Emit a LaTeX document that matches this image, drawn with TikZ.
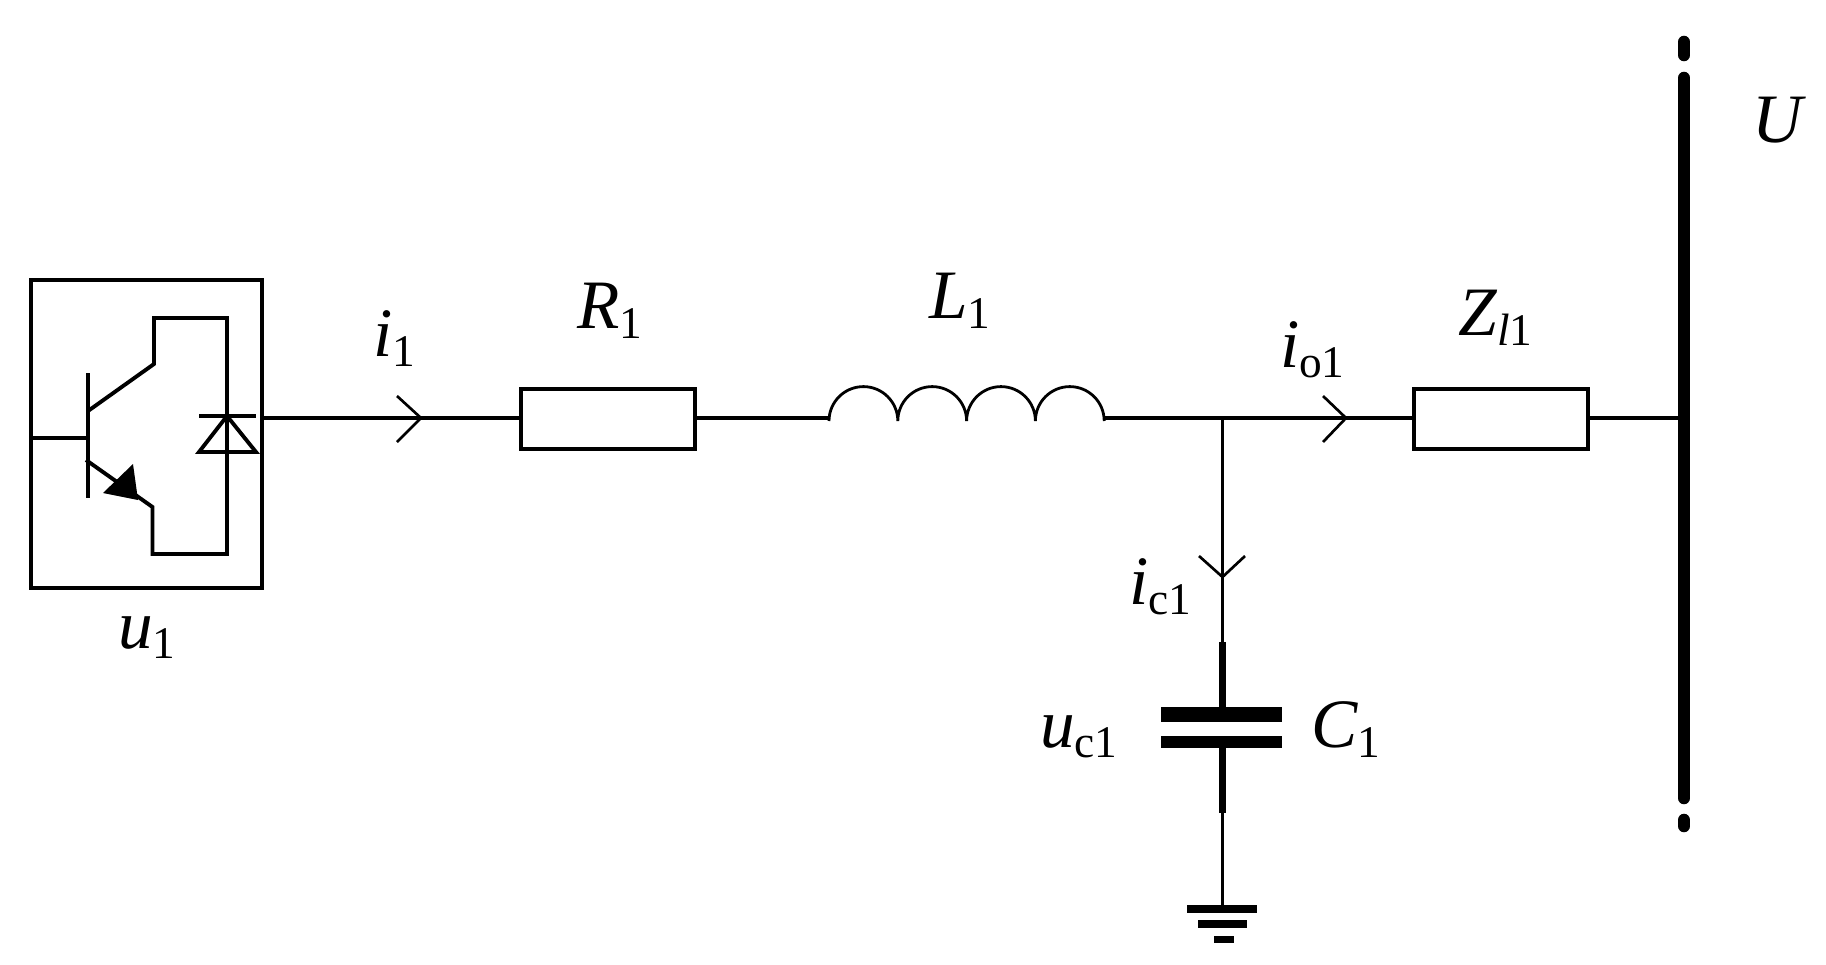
\documentclass[tikz,border=0pt]{standalone}
\usepackage{fontspec}
\setmainfont{Liberation Serif}
\newcommand{\subtxt}[1]{\raisebox{-8pt}{\fontsize{34}{34}\selectfont #1}}
\newcommand{\mainit}[1]{\textit{#1}}
\tikzset{
  wire/.style={line width=2.8pt},
  symline/.style={line width=2.9pt,line join=miter},
  resbox/.style={draw,line width=2.6pt,fill=white,inner sep=0pt,outer sep=0pt,minimum width=130.5pt,minimum height=45pt},
  arrowline/.style={line width=2pt},
  plate/.style={fill=black,inner sep=0pt,outer sep=0pt,minimum width=91pt},
  gbar/.style={fill=black,inner sep=0pt,outer sep=0pt},
  lab/.style={inner sep=0pt,outer sep=0pt,anchor=base west,font=\fontsize{52}{52}\selectfont},
}
\begin{document}
\begin{tikzpicture}[x=0.75pt,y=-0.75pt]
\useasboundingbox (0,0) rectangle (1826,964);
% converter
\node[draw,line width=3pt,inner sep=0pt,outer sep=0pt,minimum width=173.25pt,minimum height=231pt] (conv) at (146.5,434) {};
\coordinate (gate) at (31,438);
\coordinate (base) at (88,438);
\draw[symline] (gate) -- (base);
\draw[symline] (88,373) -- (88,498);
\draw[symline] (88,411) -- (154,364) -- (154,318) -- (227,318) -- (227,554) -- (152.5,554) -- (152.5,507) -- (86,460);
\fill (138,500) -- (103,493) -- (133,464) -- cycle;
\draw[symline] (199,416) -- (256,416);
\draw[symline] (227,416) -- (199,452) -- (256,452) -- cycle;
% series line
\node[resbox] (R) at (608,419) {};
\node[resbox] (Z) at (1501,419) {};
\coordinate (out) at (262,418);
\coordinate (L0) at (829,418);
\coordinate (L1) at (1104,418);
\coordinate (J) at (1222.5,418);
\coordinate (busj) at (1684,418);
\draw[wire] (out) -- (R.west|-out);
\draw[wire] (R.east|-out) -- (L0);
\draw[line width=2.1pt] (829,421)
  arc[start angle=180,end angle=360,radius=34.4]
  arc[start angle=180,end angle=360,radius=34.4]
  arc[start angle=180,end angle=360,radius=34.4]
  arc[start angle=180,end angle=360,radius=34.4];
\draw[wire] (L1) -- (Z.west|-out);
\draw[wire] (Z.east|-out) -- (busj);
% current arrows
\draw[arrowline] (397,396) -- (421,418) -- (397,442);
\draw[arrowline] (1323,396) -- (1346,418) -- (1323,442);
\draw[arrowline] (1199,556) -- (1222.5,577) -- (1245,556);
% shunt branch
\coordinate (capT) at (1222.5,642);
\coordinate (capB) at (1222.5,813);
\node[plate,minimum height=11pt] (p1) at (1221.5,714.5) {};
\node[plate,minimum height=9pt] (p2) at (1221.5,742) {};
\node[gbar,minimum width=52.5pt,minimum height=6pt] (g1) at (1222,909) {};
\node[gbar,minimum width=36.75pt,minimum height=6pt] (g2) at (1222.5,924) {};
\node[gbar,minimum width=15pt,minimum height=5.25pt] (g3) at (1224,939.5) {};
\draw[wire] (J) -- (capT);
\draw[line width=5.5pt] (capT) -- (capT|-p1.north);
\draw[line width=5.5pt] (capB|-p2.south) -- (capB);
\draw[wire] (capB) -- (capB|-g1.north);
% bus
\draw[line width=9.4pt,line cap=round] (1684,42) -- (1684,55);
\draw[line width=9.4pt,line cap=round] (1684,78) -- (1684,798);
\draw[line width=9.4pt,line cap=round] (1684,820) -- (1684,826);
% labels
\node[lab] (li1) at (373,356) {\mainit{i}\subtxt{1}};
\node[lab] (lu1) at (118,648) {\mainit{u}\subtxt{1}};
\node[lab] (lR) at (577,328) {\mainit{R}\subtxt{1}};
\node[lab] (lL) at (929,318) {\mainit{L}\subtxt{1}};
\node[lab] (lZ) at (1458,335) {\mainit{Z}\subtxt{\textit{l}1}};
\node[lab] (lio) at (1280,367) {\mainit{i}\subtxt{o1}};
\node[lab] (lU) at (1752,142) {\mainit{U}};
\node[lab] (lic) at (1129,604) {\mainit{i}\subtxt{c1}};
\node[lab] (luc) at (1040,747) {\mainit{u}\subtxt{c1}};
\node[lab] (lC) at (1311,747) {\mainit{C}\subtxt{1}};
\end{tikzpicture}
\end{document}
